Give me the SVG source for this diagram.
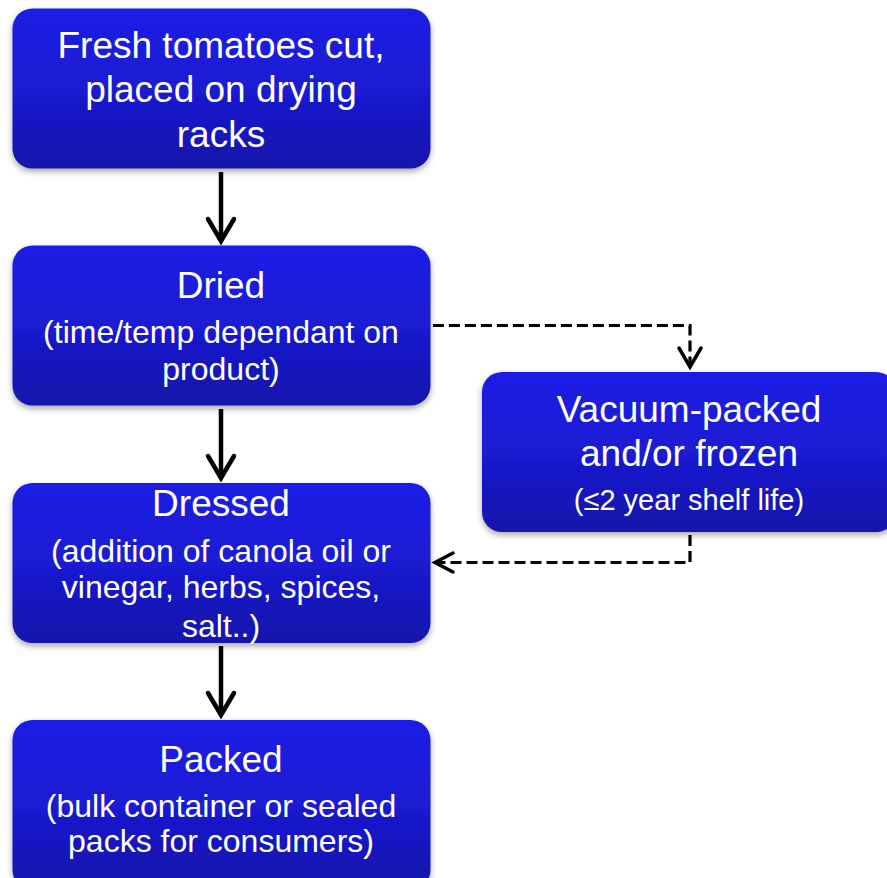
<svg xmlns="http://www.w3.org/2000/svg" width="887" height="878" viewBox="0 0 887 878">
<defs>
<linearGradient id="g" x1="0" y1="0" x2="0" y2="1">
<stop offset="0" stop-color="#1d1de6"/>
<stop offset="0.5" stop-color="#1a1ad2"/>
<stop offset="1" stop-color="#1414aa"/>
</linearGradient>
<filter id="sh" x="-10%" y="-10%" width="120%" height="130%">
<feDropShadow dx="0" dy="3" stdDeviation="3" flood-color="#000" flood-opacity="0.35"/>
</filter>
</defs>
<style>
.box{fill:url(#g);filter:url(#sh)}
.t{font-family:"Liberation Sans",Arial,sans-serif;fill:#fff;text-anchor:middle}
.h{font-size:37px}
.s{font-size:32px}
.v{font-size:29px}
.solid{stroke:#000;stroke-width:4.5;fill:none}
.dash{stroke:#000;stroke-width:3.2;fill:none;stroke-dasharray:11 5}
.head{stroke:#000;fill:none;stroke-linecap:round;stroke-linejoin:miter}
</style>
<g id="connectors">
<line class="solid" x1="221" y1="172" x2="221" y2="240"/>
<path class="head" stroke-width="4.5" d="M208,219 L221,241 L234,219"/>
<line class="solid" x1="221" y1="409" x2="221" y2="476"/>
<path class="head" stroke-width="4.5" d="M208,456 L221,478 L234,456"/>
<line class="solid" x1="221" y1="646" x2="221" y2="713"/>
<path class="head" stroke-width="4.5" d="M208,693 L221,715 L234,693"/>
<path class="dash" d="M433,325.5 H690 V365"/>
<path class="head" stroke-width="3.5" d="M679,348 L690,367 L701,348"/>
<path class="dash" d="M690,535 V562.5 H437"/>
<path class="head" stroke-width="3.5" d="M453,553 L435,562.5 L453,572"/>
</g>
<g id="n1">
<rect class="box" x="12.5" y="8.5" width="418" height="160" rx="20"/>
<text class="t h" x="221" y="58">Fresh tomatoes cut,</text>
<text class="t h" x="221" y="102">placed on drying</text>
<text class="t h" x="221" y="147">racks</text>
</g>
<g id="n2">
<rect class="box" x="12.5" y="245.5" width="418" height="160" rx="20"/>
<text class="t h" x="221" y="298">Dried</text>
<text class="t s" x="221" y="343">(time/temp dependant on</text>
<text class="t s" x="221" y="380">product)</text>
</g>
<g id="n3">
<rect class="box" x="12.5" y="483" width="418" height="160" rx="20"/>
<text class="t h" x="221" y="516">Dressed</text>
<text class="t s" x="221" y="562">(addition of canola oil or</text>
<text class="t s" x="221" y="598">vinegar, herbs, spices,</text>
<text class="t s" x="221" y="637">salt..)</text>
</g>
<g id="n4">
<rect class="box" x="12.5" y="720" width="418" height="170" rx="20"/>
<text class="t h" x="221" y="772">Packed</text>
<text class="t s" x="221" y="817">(bulk container or sealed</text>
<text class="t s" x="221" y="852">packs for consumers)</text>
</g>
<g id="n5">
<rect class="box" x="482" y="372" width="414" height="160" rx="20"/>
<text class="t h" x="689" y="422">Vacuum-packed</text>
<text class="t h" x="689" y="466">and/or frozen</text>
<text class="t v" x="689" y="510">(≤2 year shelf life)</text>
</g>
</svg>
